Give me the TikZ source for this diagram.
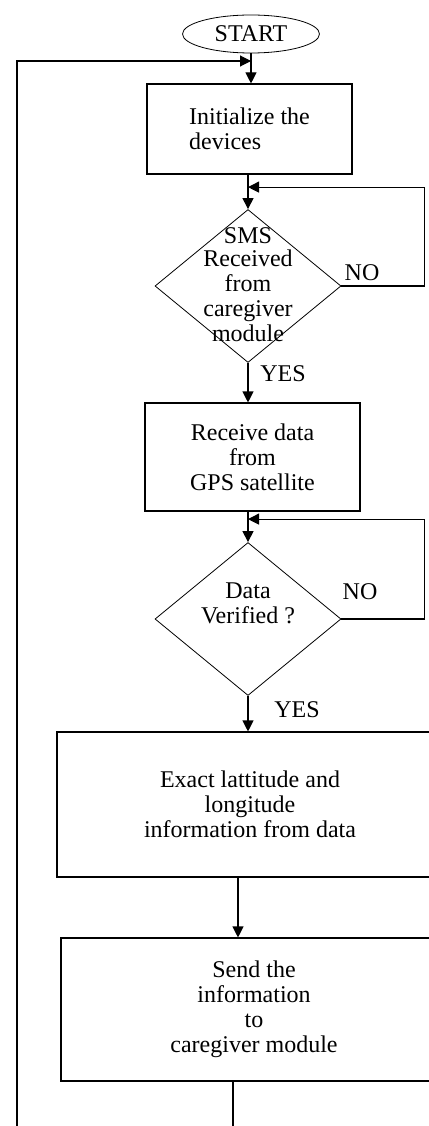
\documentclass[tikz,border=0pt]{standalone}
\usepackage{fontspec}
\setmainfont{Liberation Serif}
\usetikzlibrary{shapes.geometric,arrows.meta}

\begin{document}
\begin{tikzpicture}[x=1pt, y=-1pt, >={Triangle[length=11pt,width=11pt]}, line width=1.1pt]
      \tikzset{
  every node/.style={
    font=\fontsize{24}{25}\selectfont
  },
  terminal/.style={
    ellipse,
    draw,
    line width=.8pt,
    minimum width=137pt,
    minimum height=38pt,
    inner sep=0pt
  },
  processbox/.style={
    rectangle,
    draw,
    inner sep=0pt
  },
  decision/.style={
    diamond,
    draw,
    line width=.8pt,
    minimum width=186pt,
    minimum height=153pt,
    inner sep=0pt
  }
}
\useasboundingbox (0,0) rectangle (428,1126);

\node [terminal] (start) at (251,34) {START};

\node [processbox, minimum width=205pt, minimum height=90pt, align=left] (init) at (249.5,129) {Initialize the\\devices};

\node [decision] (dec1) at (248,286) {};
\node [align=center] (dec1text) at (248,285) {SMS\\[-2pt]Received\\from\\caregiver\\module};

\node [processbox, minimum width=215pt, minimum height=108pt, align=center] (gps) at (252.5,457) {Receive data\\from\\GPS satellite};

\node [decision] (dec2) at (248,619) {};
\node [align=center] (dec2text) at (248,603) {Data\\Verified ?};

\node [processbox, minimum width=386pt, minimum height=145pt, align=center] (extract) at (250,804.5) {Exact lattitude and\\longitude\\information from data};

\node [processbox, minimum width=386pt, minimum height=143pt, align=center] (send) at (254,1009.5) {Send the\\information\\to\\caregiver module};

% yes / no labels
\node (no1) at (362,273) {NO};
\node (no2) at (360,592) {NO};
\node (yes1) at (283,374) {YES};
\node (yes2) at (297,710) {YES};

\draw [->] (start.south) -- (start.south |- init.north);
\draw [->] (init.south -| dec1) -- (dec1.north);
\draw [->] (dec1.south) -- (dec1.south |- gps.north);
\draw [->] (gps.south -| dec2) -- (dec2.north);
\draw [->] (dec2.south) -- (dec2.south |- extract.north);
\draw [->] ([xshift=-12pt]extract.south) -- ([xshift=-12pt]extract.south |- send.north);

\foreach \d/\h in {1/22,2/23} {
  \coordinate (in\d) at ([yshift=\h pt]dec\d.north);
  \draw [->] (dec\d.east) -- ++(83,0) |- (in\d);
}

% back to the top
\coordinate (bot) at (233,1126);
\coordinate (back) at (17,1126);
\coordinate (topin) at (251,61);
\draw (send.south -| bot) -- (bot);
\draw [->] (back) |- (topin);
      \end{tikzpicture}
\end{document}
